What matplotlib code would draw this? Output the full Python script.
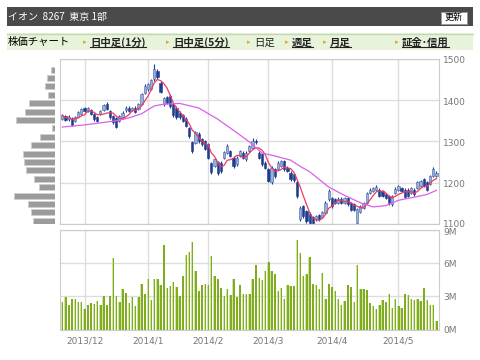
import matplotlib
matplotlib.use('Agg')
import matplotlib.pyplot as plt
import matplotlib.transforms as mtransforms
import numpy as np
import pandas as pd
from matplotlib.patches import Rectangle
from matplotlib.lines import Line2D

plt.rcParams['font.family'] = ['Noto Sans CJK JP', 'DejaVu Sans']

# daily bars 2013/11/21 - 2014/5/21 (yen)
opens = [
    1355, 1362, 1354, 1355, 1350, 1360, 1366, 1380, 1375, 1376,
    1366, 1358, 1366, 1376, 1390, 1374, 1362, 1357, 1350, 1358,
    1375, 1382, 1376, 1382, 1378, 1390, 1418, 1426, 1428, 1450,
    1470, 1442, 1390, 1407, 1410, 1390, 1382, 1370, 1363, 1355,
    1333, 1299, 1297, 1318, 1305, 1301, 1293, 1247, 1241, 1250,
    1249, 1261, 1273, 1277, 1261, 1245, 1265, 1273, 1257, 1277,
    1285, 1302, 1273, 1269, 1249, 1233, 1201, 1233, 1233, 1241,
    1253, 1237, 1225, 1221, 1201, 1112, 1144, 1132, 1126, 1118,
    1112, 1122, 1118, 1128, 1160, 1164, 1160, 1152, 1162, 1152,
    1164, 1152, 1148, 1104, 1130, 1140, 1152, 1176, 1180, 1183,
    1184, 1180, 1172, 1168, 1148, 1176, 1184, 1188, 1184, 1184,
    1176, 1184, 1188, 1192, 1209, 1201, 1197, 1217, 1217]
closes = [
    1363, 1352, 1360, 1341, 1359, 1371, 1378, 1374, 1380, 1366,
    1354, 1350, 1374, 1387, 1378, 1358, 1347, 1336, 1362, 1370,
    1382, 1374, 1381, 1371, 1390, 1414, 1434, 1438, 1448, 1474,
    1455, 1420, 1404, 1394, 1386, 1363, 1358, 1358, 1350, 1338,
    1313, 1277, 1322, 1300, 1293, 1283, 1261, 1226, 1257, 1223,
    1229, 1275, 1289, 1265, 1241, 1261, 1277, 1261, 1273, 1289,
    1301, 1298, 1261, 1245, 1237, 1205, 1237, 1217, 1249, 1253,
    1233, 1229, 1209, 1207, 1168, 1140, 1120, 1108, 1104, 1104,
    1120, 1112, 1130, 1152, 1180, 1144, 1151, 1162, 1152, 1164,
    1148, 1135, 1135, 1136, 1144, 1152, 1176, 1184, 1188, 1191,
    1168, 1168, 1164, 1151, 1168, 1186, 1192, 1180, 1167, 1168,
    1188, 1172, 1201, 1205, 1192, 1184, 1217, 1234, 1225]
highs = [
    1366, 1365, 1363, 1358, 1362, 1374, 1381, 1384, 1383, 1379,
    1368, 1361, 1377, 1390, 1395, 1377, 1365, 1360, 1365, 1373,
    1385, 1385, 1384, 1385, 1393, 1418, 1438, 1442, 1452, 1486,
    1474, 1446, 1408, 1410, 1414, 1393, 1385, 1373, 1366, 1358,
    1336, 1302, 1326, 1322, 1308, 1304, 1296, 1250, 1261, 1253,
    1252, 1278, 1293, 1280, 1264, 1264, 1280, 1276, 1276, 1292,
    1309, 1305, 1276, 1272, 1252, 1236, 1240, 1236, 1252, 1256,
    1256, 1240, 1228, 1224, 1204, 1144, 1147, 1135, 1129, 1121,
    1123, 1125, 1133, 1156, 1185, 1167, 1163, 1165, 1165, 1167,
    1167, 1155, 1151, 1140, 1147, 1155, 1179, 1187, 1191, 1194,
    1187, 1183, 1175, 1171, 1171, 1189, 1195, 1191, 1187, 1187,
    1191, 1187, 1204, 1208, 1212, 1204, 1220, 1238, 1228]
lows = [
    1352, 1349, 1350, 1338, 1347, 1358, 1364, 1371, 1372, 1363,
    1350, 1346, 1363, 1374, 1375, 1355, 1343, 1333, 1346, 1355,
    1372, 1371, 1373, 1368, 1375, 1387, 1415, 1422, 1424, 1446,
    1450, 1416, 1386, 1390, 1382, 1360, 1354, 1355, 1346, 1334,
    1309, 1273, 1294, 1296, 1290, 1279, 1257, 1222, 1238, 1219,
    1225, 1258, 1270, 1262, 1237, 1242, 1262, 1258, 1254, 1274,
    1282, 1295, 1257, 1241, 1233, 1201, 1197, 1213, 1230, 1238,
    1229, 1226, 1205, 1203, 1164, 1108, 1116, 1104, 1100, 1099,
    1109, 1109, 1115, 1125, 1157, 1140, 1148, 1149, 1149, 1149,
    1145, 1131, 1132, 1100, 1127, 1137, 1149, 1173, 1177, 1180,
    1165, 1165, 1161, 1147, 1145, 1173, 1181, 1177, 1164, 1165,
    1173, 1169, 1185, 1189, 1189, 1181, 1194, 1214, 1215]

# volume, millions of shares
volumes = [
    2.5, 2.95, 2.2, 2.75, 2.8, 2.5, 2.45, 1.85, 2.2, 2.4,
    2.3, 2.55, 2.25, 3.0, 2.2, 3.05, 6.45, 3.05, 2.45, 3.65,
    3.3, 2.4, 2.95, 2.1, 2.95, 4.1, 3.2, 4.6, 2.7, 4.6,
    4.6, 4.05, 7.65, 3.75, 3.95, 4.25, 3.8, 3.0, 4.8, 6.7,
    7.0, 7.9, 5.25, 3.45, 4.0, 4.1, 4.05, 6.6, 4.8, 4.6,
    3.75, 3.05, 3.7, 3.1, 4.55, 2.95, 4.05, 3.25, 3.2, 3.2,
    4.55, 5.85, 4.65, 4.5, 5.25, 6.1, 5.3, 5.05, 3.5, 3.75,
    2.75, 4.0, 3.9, 3.95, 8.1, 6.9, 4.85, 5.0, 6.5, 4.1,
    4.05, 3.65, 5.1, 2.8, 4.1, 3.8, 3.5, 2.75, 2.2, 2.6,
    4.05, 3.85, 2.5, 5.8, 3.65, 3.65, 3.55, 2.4, 2.1, 1.85,
    2.2, 2.65, 2.45, 3.2, 1.95, 2.8, 2.15, 1.95, 3.2, 3.1,
    2.75, 2.7, 2.75, 2.6, 3.75, 2.65, 2.2, 2.2, 0.75]

# 25-day moving average (bar number, yen)
ma25_bars = [1, 8, 14, 18, 22, 26, 30, 33, 38, 44, 50, 55, 60, 64, 67,
             73, 76, 79, 85, 90, 95, 99, 103, 107, 111, 116, 119]
ma25_vals = [1335, 1340, 1346, 1350, 1357, 1367, 1386, 1390, 1392, 1381,
             1354, 1327, 1299, 1272, 1267, 1255, 1240, 1227, 1190, 1170,
             1152, 1142, 1145, 1158, 1164, 1172, 1182]

# price-by-volume profile (price level, relative volume)
profile_prices = [1473, 1454, 1433, 1412, 1392, 1372, 1352, 1332, 1311, 1291,
                  1271, 1250, 1230, 1210, 1190, 1169, 1149, 1129, 1109]
profile_vols = [4.3, 8.3, 10, 6.7, 25.3, 29.3, 39.3, 2.7, 15.3, 23.3,
                31.7, 31, 28.7, 20.7, 15.7, 41, 26.7, 24, 22.3]

month_bars = [7, 27, 46, 65, 85, 106]
month_labels = ['2013/12', '2014/1', '2014/2', '2014/3', '2014/4', '2014/5']
price_ticks = [1100, 1200, 1300, 1400, 1500]
vol_ticks = [0, 3, 6, 9]

W, H = 480, 360
GRID = '#dddddd'
LABEL = '#777777'
DARK = '#1e3d8f'
LIGHT = '#9bb0d8'


def frac(x, y):
    return x / W, 1 - y / H


def axes_box(fig, x0, y0, x1, y1):
    fx, fy = frac(x0, y1)
    return fig.add_axes([fx, fy, (x1 - x0) / W, (y1 - y0) / H])


def style_panel(ax):
    for s in ax.spines.values():
        s.set_color('#cccccc')
        s.set_linewidth(0.8)
    ax.yaxis.tick_right()
    ax.tick_params(length=0, labelsize=6.5, labelcolor=LABEL, pad=3)
    ax.set_xticks(month_bars)
    ax.grid(True, color=GRID, linewidth=1)
    ax.set_axisbelow(True)


def nudge(fig, label, dy):
    """shift a tick label vertically by dy pixels"""
    off = mtransforms.ScaledTranslation(0, dy / 100, fig.dpi_scale_trans)
    label.set_transform(label.get_transform() + off)


fig = plt.figure(figsize=(4.8, 3.6), dpi=100)

# header bar
x, y = frac(7, 26)
fig.add_artist(Rectangle((x, y), 466 / W, 19 / H, transform=fig.transFigure,
                         facecolor='#4a4a4a', edgecolor='none'))
fig.text(*frac(8, 16.5), 'イオン  8267  東京 1部', color='white', fontsize=7.2,
         va='center', ha='left')
x, y = frac(441, 23.5)
fig.add_artist(Rectangle((x, y), 26 / W, 11.5 / H, transform=fig.transFigure,
                         facecolor='white', edgecolor='#999999', lw=0.6))
fig.text(*frac(454, 17.8), '更新', fontsize=6.5, va='center', ha='center')

# menu strip
x, y = frac(7, 50)
fig.add_artist(Rectangle((x, y), 466 / W, 17 / H, transform=fig.transFigure,
                         facecolor='#e8f3dc', edgecolor='none'))
fig.add_artist(Line2D([7 / W, 473 / W], [1 - 33.5 / H] * 2,
                      transform=fig.transFigure, color='#c5d9ae', lw=1))
fig.text(*frac(8, 42.5), '株価チャート', fontsize=7.5, va='center', ha='left')
menu = [(83, '日中足(1分)', True), (166, '日中足(5分)', True), (247, '日足', False),
        (285, '週足', True), (323, '月足', True), (395, '証金･信用', True)]
links = []
for mx, label, link in menu:
    fig.text(*frac(mx, 42.5), '▸', fontsize=5, color='#f0a020',
             va='center', ha='left', family=['DejaVu Sans'])
    t = fig.text(*frac(mx + 7, 42.5), label, fontsize=7.5, va='center', ha='left',
                 color='#222222', fontweight='bold' if link else 'normal')
    if link:
        links.append(t)

# price panel
x = np.arange(len(closes))
o = np.array(opens)
c = np.array(closes)
up = c >= o
ax = axes_box(fig, 60, 58.7, 439, 224.3)
style_panel(ax)
ax.set_xticklabels([])
ax.vlines(x, lows, highs, color=DARK, lw=0.8, zorder=2)
bottoms = np.minimum(o, c)
heights = np.maximum(np.abs(c - o), 1.5)
ax.bar(x, heights, bottom=bottoms, width=0.7,
       color=np.where(up, LIGHT, DARK), edgecolor=np.where(up, '#4664aa', DARK),
       linewidth=0.4, zorder=3)
ma5 = pd.Series(closes).rolling(5, min_periods=1).mean()
ax.plot(x, ma5, color='#ee3a62', lw=0.9, zorder=4)
ax.plot(np.array(ma25_bars) - 1, ma25_vals, color='#dd5ef0', lw=0.9, zorder=4)
ax.set_xlim(-0.73, 118.8)
ax.set_ylim(1100, 1500)
ax.set_yticks(price_ticks)
for lab in ax.get_yticklabels():
    lab.set_family(['DejaVu Sans'])
    nudge(fig, lab, -1)
nudge(fig, ax.get_yticklabels()[0], 2)

# price-by-volume bars
axp = axes_box(fig, 12.5, 58.7, 54.8, 224.3)
axp.barh(profile_prices, profile_vols, height=14.5, left=0,
         color='#9c9c9c', edgecolor='#cfcfcf', linewidth=0.6)
axp.set_xlim(42.3, 0)
axp.set_ylim(1100, 1500)
axp.axis('off')

# volume panel
axv = axes_box(fig, 60, 229.7, 439, 329.7)
style_panel(axv)
axv.bar(x, volumes, width=0.72, color='#cfe4a3', zorder=2)
axv.bar(x + 0.12, volumes, width=0.48, color='#80ad1f', zorder=3)
axv.set_xlim(-0.73, 118.8)
axv.set_ylim(0, 9)
axv.set_yticks(vol_ticks)
axv.set_yticklabels([f'{v}M' for v in vol_ticks])
axv.set_xticklabels(month_labels)
axv.tick_params(axis='x', pad=5)
for lab in axv.get_yticklabels() + axv.get_xticklabels():
    lab.set_family(['DejaVu Sans'])
nudge(fig, axv.get_yticklabels()[-1], -2)

# underline the menu links
fig.canvas.draw()
inv = fig.transFigure.inverted()
for t in links:
    bb = t.get_window_extent().transformed(inv)
    fig.add_artist(Line2D([bb.x0, bb.x1], [bb.y0 + 1 / H] * 2,
                          transform=fig.transFigure, color='#222222', lw=0.8))

fig.savefig('out.png', dpi=100)
